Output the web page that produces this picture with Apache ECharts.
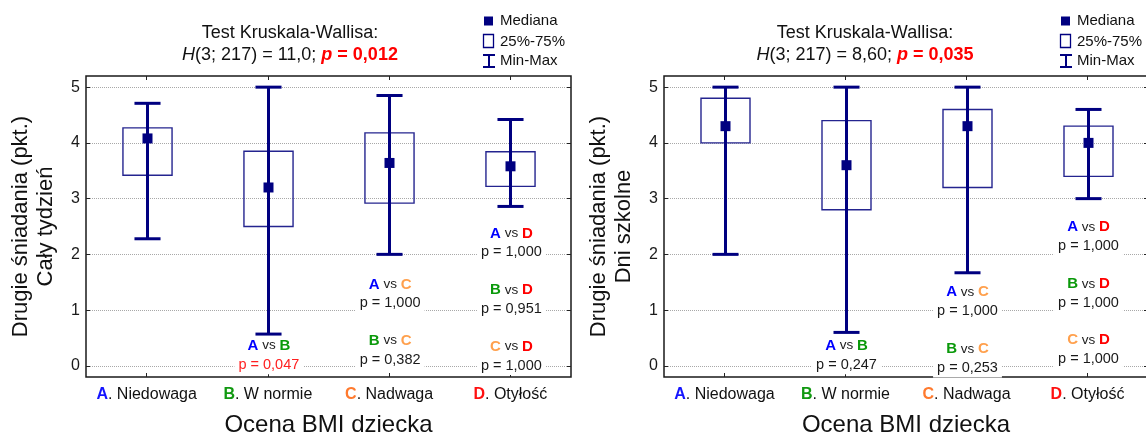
<!DOCTYPE html>
<html>
<head>
<meta charset="utf-8">
<title>Drugie śniadania – ocena BMI dziecka</title>
<script src="https://cdn.jsdelivr.net/npm/echarts@6/dist/echarts.min.js"></script>
<style>
  html, body { margin: 0; padding: 0; background: #fff; }
  #chart { width: 1146px; height: 436px; }
</style>
</head>
<body>
<div id="chart"></div>
<script>
// BMI groups on the x axis
const categories = ['Niedowaga', 'W normie', 'Nadwaga', 'Otyłość'];
const groupLetters = ['A', 'B', 'C', 'D'];
const yTicks = [0, 1, 2, 3, 4, 5];

// Second breakfasts, whole week (points)
const weekMin    = [2.28, 0.57, 2.00, 2.86];
const weekQ1     = [3.42, 2.50, 2.92, 3.22];
const weekMedian = [4.08, 3.20, 3.64, 3.58];
const weekQ3     = [4.27, 3.85, 4.18, 3.84];
const weekMax    = [4.71, 5.00, 4.85, 4.42];

// Second breakfasts, school days (points)
const schoolMin    = [2.00, 0.60, 1.67, 3.00];
const schoolQ1     = [4.00, 2.80, 3.20, 3.40];
const schoolMedian = [4.30, 3.60, 4.30, 4.00];
const schoolQ3     = [4.80, 4.40, 4.60, 4.30];
const schoolMax    = [5.00, 5.00, 5.00, 4.60];

// Kruskal-Wallis results
const weekTest   = { df: 3, n: 217, H: '11,0', p: '0,012' };
const schoolTest = { df: 3, n: 217, H: '8,60', p: '0,035' };

// Post-hoc pairwise comparisons: [group, group, p]
const weekPairs = [
  ['A', 'B', '0,047'], ['A', 'C', '1,000'], ['B', 'C', '0,382'],
  ['A', 'D', '1,000'], ['B', 'D', '0,951'], ['C', 'D', '1,000']
];
const schoolPairs = [
  ['A', 'B', '0,247'], ['A', 'C', '1,000'], ['B', 'C', '0,253'],
  ['A', 'D', '1,000'], ['B', 'D', '1,000'], ['C', 'D', '1,000']
];
// vertical placement of each comparison note (axis units)
const weekPairY   = [0.19, 1.29, 0.28, 2.205, 1.19, 0.175];
const schoolPairY = [0.19, 1.155, 0.13, 2.32, 1.30, 0.29];

const FONT = "'Liberation Sans', Arial, sans-serif";
const NAVY = '#000080';
const BOX_STROKE = '#24248f';
const letterColors = { A: '#0000ff', B: '#0a990a', C: '#ffa04d', D: '#ff0000' };
const axisLetterColors = ['#1414ff', '#119911', '#ff7a2e', '#ff1010'];

function boxData(mn, q1, md, q3, mx) {
  return categories.map((c, i) => [i, mn[i], q1[i], md[i], q3[i], mx[i]]);
}

function renderBox(params, api) {
  const x = api.value(0);
  const pMin = api.coord([x, api.value(1)]);
  const pQ1 = api.coord([x, api.value(2)]);
  const pMed = api.coord([x, api.value(3)]);
  const pQ3 = api.coord([x, api.value(4)]);
  const pMax = api.coord([x, api.value(5)]);
  const band = api.size([1, 0])[0];
  const bw = band * 0.405;
  const cw = band * 0.215;
  const ms = 10;
  const cx = Math.round(pMed[0]) + 0.5;
  return {
    type: 'group',
    children: [
      { type: 'rect', shape: { x: cx - bw / 2, y: pQ3[1], width: bw, height: pQ1[1] - pQ3[1] },
        style: { fill: 'none', stroke: BOX_STROKE, lineWidth: 1.4 } },
      { type: 'line', shape: { x1: cx, y1: pMax[1], x2: cx, y2: pMin[1] },
        style: { stroke: NAVY, lineWidth: 3 } },
      { type: 'line', shape: { x1: cx - cw / 2, y1: pMax[1], x2: cx + cw / 2, y2: pMax[1] },
        style: { stroke: NAVY, lineWidth: 3 } },
      { type: 'line', shape: { x1: cx - cw / 2, y1: pMin[1], x2: cx + cw / 2, y2: pMin[1] },
        style: { stroke: NAVY, lineWidth: 3 } },
      { type: 'rect', shape: { x: cx - ms / 2, y: pMed[1] - ms / 2, width: ms, height: ms },
        style: { fill: NAVY } }
    ]
  };
}

// rich styles for zrender text elements (custom series / graphic) use "fill"
function rs(size, fill, extra) {
  return Object.assign({ fontFamily: FONT, fontSize: size, fill: fill }, extra || {});
}

const pairRich = {
  A: rs(15, letterColors.A, { fontWeight: 'bold', lineHeight: 19 }),
  B: rs(15, letterColors.B, { fontWeight: 'bold', lineHeight: 19 }),
  C: rs(15, letterColors.C, { fontWeight: 'bold', lineHeight: 19 }),
  D: rs(15, letterColors.D, { fontWeight: 'bold', lineHeight: 19 }),
  vs: rs(13.5, '#222', { lineHeight: 19 }),
  p: rs(14.5, '#1a1a1a', { lineHeight: 19 }),
  ps: rs(14.5, '#ff2020', { lineHeight: 19 })
};

function pairSeries(pairs, ys, axisIdx) {
  return {
    type: 'custom',
    xAxisIndex: axisIdx,
    yAxisIndex: axisIdx,
    silent: true,
    z: 5,
    data: pairs.map((pr, i) => [groupLetters.indexOf(pr[1]), ys[i]]),
    renderItem: function (params, api) {
      const pr = pairs[params.dataIndex];
      const pt = api.coord([api.value(0), api.value(1)]);
      const sig = parseFloat(pr[2].replace(',', '.')) < 0.05;
      const text = '{' + pr[0] + '|' + pr[0] + '}{vs| vs }{' + pr[1] + '|' + pr[1] + '}\n' +
        '{' + (sig ? 'ps' : 'p') + '|p = ' + pr[2] + '}';
      return {
        type: 'text',
        x: pt[0] + 1,
        y: pt[1],
        style: {
          text: text,
          rich: pairRich,
          align: 'center',
          verticalAlign: 'middle',
          backgroundColor: '#fff',
          padding: [0, 4]
        }
      };
    }
  };
}

function titleText(cx, test) {
  return {
    type: 'text',
    x: cx,
    y: 22,
    style: {
      text: '{n|Test Kruskala-Wallisa:}\n{i|H}{n|(' + test.df + '; ' + test.n + ') = ' + test.H + '; }{pi|p}{pb| = ' + test.p + '}',
      align: 'center',
      verticalAlign: 'top',
      rich: {
        n: rs(18, '#111', { lineHeight: 22 }),
        i: rs(18, '#111', { fontStyle: 'italic', lineHeight: 22 }),
        pi: rs(18, '#ff0000', { fontStyle: 'italic', fontWeight: 'bold', lineHeight: 22 }),
        pb: rs(18, '#ff0000', { fontWeight: 'bold', lineHeight: 22 })
      }
    }
  };
}

function legendGroup(x0) {
  const txt = (y, s) => ({ type: 'text', x: x0 + 17, y: y,
    style: { text: s, font: '15px ' + FONT, fill: '#111', verticalAlign: 'middle', align: 'left' } });
  return {
    type: 'group',
    children: [
      { type: 'rect', shape: { x: x0 + 1, y: 16.5, width: 9, height: 9 }, style: { fill: NAVY } },
      txt(21, 'Mediana'),
      { type: 'rect', shape: { x: x0 + 0.5, y: 34.5, width: 10, height: 13 },
        style: { fill: 'none', stroke: NAVY, lineWidth: 1.3 } },
      txt(41.5, '25%-75%'),
      { type: 'line', shape: { x1: x0 + 6, y1: 55, x2: x0 + 6, y2: 67 }, style: { stroke: NAVY, lineWidth: 2 } },
      { type: 'line', shape: { x1: x0, y1: 55, x2: x0 + 12, y2: 55 }, style: { stroke: NAVY, lineWidth: 2 } },
      { type: 'line', shape: { x1: x0, y1: 67, x2: x0 + 12, y2: 67 }, style: { stroke: NAVY, lineWidth: 2 } },
      txt(61, 'Min-Max')
    ]
  };
}

const xLabelRich = { t: { fontFamily: FONT, fontSize: 16, color: '#111' } };
axisLetterColors.forEach((c, i) => {
  xLabelRich['l' + i] = { fontFamily: FONT, fontSize: 16, fontWeight: 'bold', color: c };
});

function bottomX(gridIndex) {
  return {
    type: 'category', gridIndex: gridIndex, data: categories, position: 'bottom',
    axisLine: { show: false, onZero: false },
    axisTick: { show: true, inside: true, length: 4, interval: 0, alignWithLabel: true, lineStyle: { color: '#222' } },
    axisLabel: {
      interval: 0,
      margin: 10,
      formatter: (v, i) => '{l' + i + '|' + groupLetters[i] + '}{t|. ' + v + '}',
      rich: xLabelRich
    },
    name: 'Ocena BMI dziecka', nameLocation: 'middle', nameGap: 36,
    nameTextStyle: { fontFamily: FONT, fontSize: 24, color: '#111' }
  };
}
function topX(gridIndex) {
  return {
    type: 'category', gridIndex: gridIndex, data: categories, position: 'top',
    axisLine: { show: false, onZero: false }, axisLabel: { show: false, interval: 0 },
    axisTick: { show: true, inside: true, length: 4, interval: 0, alignWithLabel: true, lineStyle: { color: '#222' } }
  };
}
function leftY(gridIndex, subtitle) {
  return {
    type: 'value', gridIndex: gridIndex, min: -0.2, max: 5.2, position: 'left',
    axisLine: { show: false, onZero: false },
    axisTick: { show: true, inside: true, length: 4, customValues: yTicks, lineStyle: { color: '#222' } },
    axisLabel: { customValues: yTicks, margin: 6, fontFamily: FONT, fontSize: 16, color: '#1a1a1a' },
    splitLine: { show: true, lineStyle: { type: 'dotted', color: '#a8a8a8', width: 1 } },
    name: 'Drugie śniadania (pkt.)\n' + subtitle, nameLocation: 'middle', nameGap: 28,
    nameTextStyle: { fontFamily: FONT, fontSize: 22, color: '#111', lineHeight: 25 }
  };
}
function rightY(gridIndex) {
  return {
    type: 'value', gridIndex: gridIndex, min: -0.2, max: 5.2, position: 'right',
    axisLine: { show: false, onZero: false }, axisLabel: { show: false }, splitLine: { show: false },
    axisTick: { show: true, inside: true, length: 4, customValues: yTicks, lineStyle: { color: '#222' } }
  };
}

const gridBase = { top: 76, height: 301, show: true, borderColor: '#1a1a1a', borderWidth: 1.5,
  backgroundColor: 'transparent', containLabel: false, outerBoundsMode: 'none' };

const chart = echarts.init(document.getElementById('chart'), null, { renderer: 'canvas' });
chart.setOption({
  animation: false,
  backgroundColor: '#fff',
  grid: [
    Object.assign({ left: 86, width: 485 }, gridBase),
    Object.assign({ left: 664, width: 484 }, gridBase)
  ],
  xAxis: [bottomX(0), bottomX(1), topX(0), topX(1)],
  yAxis: [leftY(0, 'Cały tydzień'), leftY(1, 'Dni szkolne'), rightY(0), rightY(1)],
  series: [
    { type: 'custom', xAxisIndex: 0, yAxisIndex: 0, silent: true, z: 3,
      encode: { x: 0, y: [1, 2, 3, 4, 5] },
      data: boxData(weekMin, weekQ1, weekMedian, weekQ3, weekMax), renderItem: renderBox },
    { type: 'custom', xAxisIndex: 1, yAxisIndex: 1, silent: true, z: 3,
      encode: { x: 0, y: [1, 2, 3, 4, 5] },
      data: boxData(schoolMin, schoolQ1, schoolMedian, schoolQ3, schoolMax), renderItem: renderBox },
    pairSeries(weekPairs, weekPairY, 0),
    pairSeries(schoolPairs, schoolPairY, 1)
  ],
  graphic: [
    titleText(290, weekTest),
    titleText(865, schoolTest),
    legendGroup(483),
    legendGroup(1060)
  ]
});
</script>
</body>
</html>
